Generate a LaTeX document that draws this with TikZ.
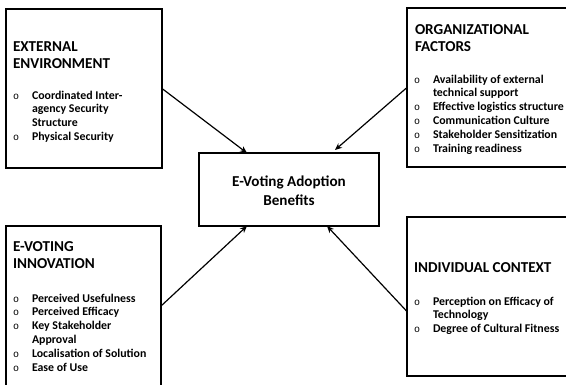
\documentclass[tikz,border=0pt]{standalone}
\usepackage{fontspec}
\setmainfont{Carlito}
\newfontfamily\bulfont{Liberation Mono}
\usetikzlibrary{arrows.meta}
\newcommand\headtxt{\fontsize{15.2}{18}\selectfont\bfseries}
\newcommand\itemtxt{\fontsize{11.9}{14}\selectfont\bfseries}
\newcommand\bit[1]{\par\hangindent=19bp\hangafter=1\noindent\makebox[19bp][l]{{\fontsize{10}{14}\selectfont\mdseries\bulfont o}}#1}
\tikzset{
  box/.style={draw=black, line width=1.6pt, fill=white, inner sep=0pt, outer sep=0pt, anchor=north west},
  txt/.style={inner sep=0pt, outer sep=0pt, anchor=base west},
  arr/.style={line width=1.2pt, -{Stealth[length=7bp,width=6bp]}}
}
\begin{document}
\begin{tikzpicture}[x=1bp,y=-1bp]
\useasboundingbox (0,0) rectangle (566,384);
% boxes
\node[box, minimum width=156bp, minimum height=159bp] (b1) at (6,9) {};
\node[box, minimum width=161bp, minimum height=159bp] (b2) at (407,8) {};
\node[box, minimum width=155bp, minimum height=160bp] (b3) at (6,226) {};
\node[box, minimum width=161bp, minimum height=159bp] (b4) at (407,217) {};
\node[box, minimum width=180bp, minimum height=73bp] (c) at (199,153) {};
% center text
\node[inner sep=0pt, anchor=base, align=center, font=\headtxt] (ct) at (289,205) {E-Voting Adoption\\[1bp]Benefits};
% box 1
\node[txt] (h1) at (13,51) {\parbox[t]{145bp}{\headtxt EXTERNAL\\ENVIRONMENT}};
\node[txt] (l1) at (13,99) {\parbox[t]{145bp}{\itemtxt
\bit{Coordinated Inter-\\agency Security\\Structure}
\bit{Physical Security}}};
% box 2
\node[txt] (h2) at (415,34) {\parbox[t]{150bp}{\headtxt ORGANIZATIONAL\\FACTORS}};
\node[txt] (l2) at (414,83) {\parbox[t]{152bp}{\itemtxt
\bit{Availability of external\\technical support}
\bit{Effective logistics structure}
\bit{Communication Culture}
\bit{Stakeholder Sensitization}
\bit{Training readiness}}};
% box 3
\node[txt] (h3) at (13,251) {\parbox[t]{145bp}{\headtxt E-VOTING\\INNOVATION}};
\node[txt] (l3) at (13,302) {\parbox[t]{145bp}{\itemtxt
\bit{Perceived Usefulness}
\bit{Perceived Efficacy}
\bit{Key Stakeholder\\Approval}
\bit{Localisation of Solution}
\bit{Ease of Use}}};
% box 4
\node[txt] (h4) at (414,272) {\parbox[t]{150bp}{\headtxt INDIVIDUAL CONTEXT}};
\node[txt] (l4) at (414,305) {\parbox[t]{152bp}{\itemtxt
\bit{Perception on Efficacy of\\Technology}
\bit{Degree of Cultural Fitness}}};
% arrows
\draw[arr] (b1.east) -- ([xshift=48bp]c.north west);
\draw[arr] (b2.west) -- ([xshift=136bp,yshift=3bp]c.north west);
\draw[arr] (b3.east) -- ([xshift=48bp]c.south west);
\draw[arr] ([yshift=-15bp]b4.west) -- ([xshift=128bp]c.south west);
\end{tikzpicture}
\end{document}
